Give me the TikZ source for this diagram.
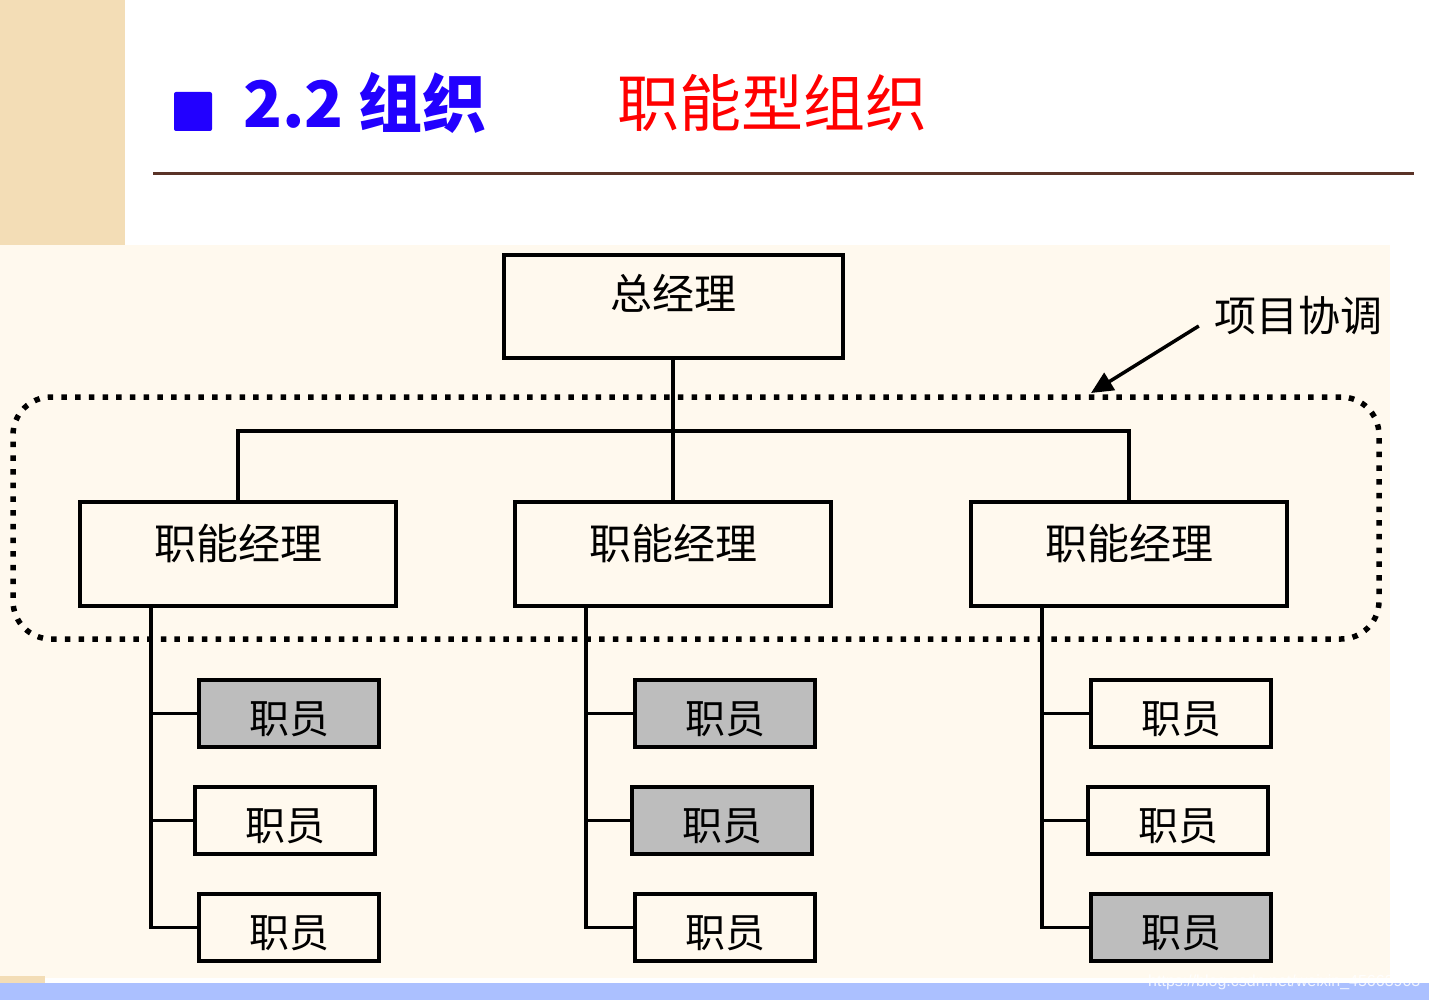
\documentclass[tikz,border=0pt]{standalone}
\usepackage{fontspec}
\setmainfont{Liberation Sans}
\newfontfamily\cjk{Noto Sans CJK SC}
\usetikzlibrary{arrows.meta, positioning}
\definecolor{cream}{HTML}{FFF9EE}
\definecolor{tan}{HTML}{F3DDB6}
\definecolor{barblue}{HTML}{ABC0FF}
\definecolor{titleblue}{HTML}{2200FF}
\definecolor{rulebrown}{HTML}{5A3327}
\definecolor{staffgray}{HTML}{BDBDBD}
\tikzset{
    gmbox/.style={rectangle, draw=black, line width=4pt, fill=cream, minimum width=339pt, minimum height=103pt, font=\cjk\fontsize{42}{42}\selectfont, text height=36pt, text depth=31pt},
    mgrbox/.style={rectangle, draw=black, line width=4pt, fill=cream, minimum width=316pt, minimum height=104pt, font=\cjk\fontsize{42}{42}\selectfont, text height=36pt, text depth=26pt},
    staffbox/.style={rectangle, draw=black, line width=4pt, fill=cream, minimum width=180pt, minimum height=67pt, font=\cjk\fontsize{40}{40}\selectfont, text height=44pt, text depth=4pt},
    grayed/.style={fill=staffgray},
    conn/.style={line width=3.5pt},
    coordbox/.style={rectangle, draw=black, rounded corners=38pt, minimum width=1366pt, minimum height=242pt, line width=5.5pt, dash pattern=on 5.5pt off 8.2pt},
    pointer/.style={line width=3.5pt, -{Triangle[length=22pt,width=20pt]}}
}

\begin{document}
\begin{tikzpicture}[x=1pt, y=-1pt]
    \useasboundingbox (0,0) rectangle (1429,1000);
    % page background
    \fill[white] (0,0) rectangle (1429,1000);
    \fill[tan] (0,0) rectangle (125,245);
    \fill[cream] (0,245) rectangle (1390,978);
    \fill[tan] (0,976) rectangle (45,983);
    \fill[barblue] (0,983) rectangle (1429,1000);
    \node (mark) [anchor=west, text=white, opacity=0.85, font=\fontsize{16}{16}\selectfont, inner sep=0pt] at (1148,982) {https://blog.csdn.net/weixin\_45663903};

    % title
    \fill[titleblue, rounded corners=2pt] (174,92) rectangle (212,131);
    \node (title) [anchor=base west, text=titleblue, inner sep=0pt, font=\cjk\bfseries\fontsize{64}{64}\selectfont] at (243,128) {2.2 组织};
    \node (subtitle) [anchor=base west, text=red, inner sep=0pt, font=\cjk\fontsize{62}{62}\selectfont] at (617,127) {职能型组织};
    \draw[rulebrown, line width=3pt] (153,174) -- (1414,174);

    % project coordination
    \node (coord) [coordbox] at (696,518) {};
    \node (lbl) [font=\cjk\fontsize{42}{42}\selectfont, inner sep=0pt] at (1298,316) {项目协调};
    \coordinate (tip) at (1091,393);
    \draw [pointer] ([xshift=-15pt,yshift=-10pt]lbl.west) -- (tip);

    % managers
    \node (gm) [gmbox] at (673,306.5) {总经理};
    \node (m1) [mgrbox] at (238,554) {职能经理};
    \node (m2) [mgrbox] at (673,554) {职能经理};
    \node (m3) [mgrbox] at (1129,554) {职能经理};
    \coordinate (bus) at (673,431);

    \draw [conn] (gm.south) -- (m2.north);
    \draw [conn] (m1.north) |- (bus) -| (m3.north);

    % staff
    \node (s11) [staffbox, grayed] at (289,713.5) {职员};
    \node (s12) [staffbox, below=36pt of s11, xshift=-4pt] {职员};
    \node (s13) [staffbox, below=36pt of s12, xshift=4pt] {职员};
    \node (s21) [staffbox, grayed] at (725,713.5) {职员};
    \node (s22) [staffbox, grayed, below=36pt of s21, xshift=-3pt] {职员};
    \node (s23) [staffbox, below=36pt of s22, xshift=3pt] {职员};
    \node (s31) [staffbox] at (1181,713.5) {职员};
    \node (s32) [staffbox, below=36pt of s31, xshift=-3pt] {职员};
    \node (s33) [staffbox, grayed, below=36pt of s32, xshift=3pt] {职员};

    \coordinate (t1) at ([xshift=73pt]m1.south west);
    \coordinate (t2) at ([xshift=73pt]m2.south west);
    \coordinate (t3) at ([xshift=73pt]m3.south west);

    \draw [conn] (t1) |- (s13.west);
    \draw [conn] (t1 |- s11.west) -- (s11.west);
    \draw [conn] (t1 |- s12.west) -- (s12.west);
    \draw [conn] (t2) |- (s23.west);
    \draw [conn] (t2 |- s21.west) -- (s21.west);
    \draw [conn] (t2 |- s22.west) -- (s22.west);
    \draw [conn] (t3) |- (s33.west);
    \draw [conn] (t3 |- s31.west) -- (s31.west);
    \draw [conn] (t3 |- s32.west) -- (s32.west);
\end{tikzpicture}
\end{document}
